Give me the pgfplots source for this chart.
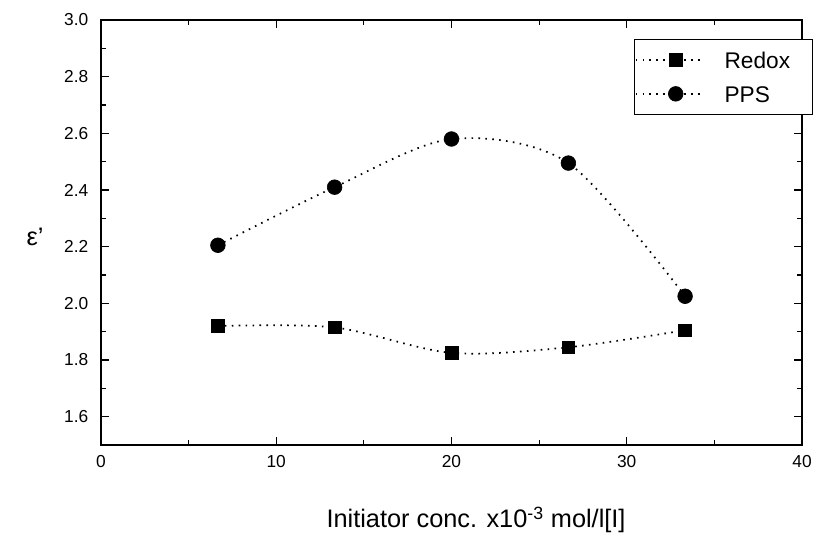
\documentclass[border=0pt]{standalone}
\usepackage{fontspec}
\setmainfont{Liberation Sans}
\usepackage{pgfplots}
\pgfplotsset{compat=1.18}

% one reference pixel = 0.75pt, the axis box is 701 x 425 px
\begin{document}
\begin{tikzpicture}
\begin{axis}[
  scale only axis,
  width=525.75pt, height=318.75pt,
  xmin=0, xmax=40, ymin=1.5, ymax=3.0,
  xtick={0,10,20,30,40},
  ytick={1.6,1.8,2.0,2.2,2.4,2.6,2.8,3.0},
  minor x tick num=1, minor y tick num=1,
  tick align=inside,
  major tick length=6pt, minor tick length=3.5pt,
  axis line style={line width=0.8pt},
  every tick/.style={black, line width=0.8pt},
  tick label style={font=\fontsize{13}{15}\selectfont},
  /pgf/number format/assume math mode=true,
  x tick label style={yshift=-4.5pt},
  y tick label style={xshift=-6pt, /pgf/number format/fixed,
                      /pgf/number format/fixed zerofill,
                      /pgf/number format/precision=1},
  xlabel={Initiator conc. x10\textsuperscript{-3} mol/l[I]},
  ylabel={ε'},
  xlabel style={font=\fontsize{19}{22}\selectfont,
                at={(axis description cs:0.535,-0.195)}, anchor=base},
  ylabel style={font=\fontsize{19}{22}\selectfont, rotate=-90,
                at={(axis description cs:-0.094,0.49)}, anchor=center},
  legend style={at={(1.0157,0.955)}, anchor=north east, draw=black, line width=0.6pt,
                font=\fontsize{17}{20}\selectfont, inner xsep=0pt, inner ysep=9pt,
                row sep=13pt, column sep=16pt,
                nodes={inner sep=0pt, text width=66pt, align=left,
                       text height=12.5pt, text depth=0pt}},
  legend cell align=left,
  legend image code/.code={%
    \path (-10pt,0pt) -- (40pt,0pt);
    \draw[mark repeat=2, mark phase=2, #1]
      plot coordinates {(0pt,0pt) (20pt,0pt) (40pt,0pt)};},
]
\addplot[black, smooth, line width=1.3pt, dash pattern=on 1.2pt off 4pt,
         mark=square*, mark size=4.8pt, mark options={solid, line width=0.5pt}]
  coordinates {(6.67,1.92) (13.33,1.915) (20,1.825) (26.67,1.845) (33.33,1.905)};
\addplot[black, smooth, line width=1.3pt, dash pattern=on 1.2pt off 4pt,
         mark=*, mark size=5.5pt, mark options={solid, line width=0.5pt}]
  coordinates {(6.67,2.205) (13.33,2.41) (20,2.58) (26.67,2.495) (33.33,2.025)};
\legend{Redox, PPS}
\end{axis}
\pgfresetboundingbox
\path ([shift={(-75.75pt,-65.25pt)}]current axis.south west)
  rectangle ([shift={(8.25pt,15pt)}]current axis.north east);
\end{tikzpicture}
\end{document}
